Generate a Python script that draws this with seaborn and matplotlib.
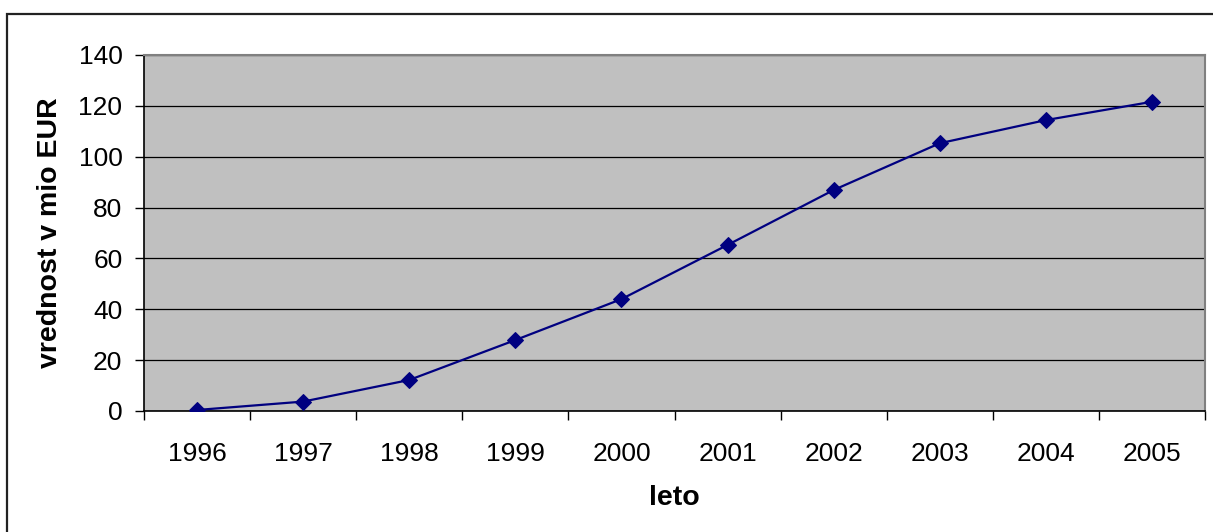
import matplotlib
matplotlib.use("Agg")
import matplotlib.pyplot as plt
from matplotlib.patches import Rectangle
from matplotlib.ticker import FixedLocator, NullFormatter
import seaborn as sns
import pandas as pd

# podatki
years = ["1996", "1997", "1998", "1999", "2000", "2001", "2002", "2003", "2004", "2005"]
values = [0.4, 3.7, 12.2, 27.9, 44.0, 65.3, 86.9, 105.3, 114.4, 121.6]

df = pd.DataFrame({"pos": range(len(years)), "vrednost": values})

sns.set_style("white")
plt.rcParams["font.family"] = ["Liberation Sans", "DejaVu Sans"]
plt.rcParams["text.color"] = "black"
plt.rcParams["axes.labelcolor"] = "black"
plt.rcParams["xtick.color"] = "black"
plt.rcParams["ytick.color"] = "black"

fig = plt.figure(figsize=(12.13, 5.32), dpi=100)
ax = fig.add_axes([144 / 1213, 1 - 411 / 532, (1205 - 144) / 1213, (411 - 55) / 532])
ax.set_facecolor("#c0c0c0")

sns.lineplot(x="pos", y="vrednost", data=df, ax=ax, color="#000080", linewidth=1.6,
             marker="D", markersize=8, markeredgecolor="#000080", zorder=3)

ax.set_ylim(0, 140)
ax.set_yticks(range(0, 141, 20))
ax.yaxis.grid(True, color="#000000", linewidth=0.9)
ax.set_axisbelow(True)

# kategorijska os: oznake med kategorijami, napisi na sredini
ax.set_xlim(-0.5, len(years) - 0.5)
ax.xaxis.set_major_locator(FixedLocator([i - 0.5 for i in range(len(years) + 1)]))
ax.xaxis.set_major_formatter(NullFormatter())
ax.xaxis.set_minor_locator(FixedLocator(range(len(years))))
ax.set_xticklabels(years, minor=True)
ax.tick_params(axis="x", which="major", direction="out", length=6.5, width=1, bottom=True)
ax.tick_params(axis="x", which="minor", length=0, pad=22, labelsize=19)
ax.tick_params(axis="y", direction="out", length=6.5, width=1, left=True, labelsize=19, pad=9)

for side in ["left", "bottom"]:
    ax.spines[side].set_color("black")
    ax.spines[side].set_linewidth(1.2)
for side in ["top", "right"]:
    ax.spines[side].set_color("#808080")
    ax.spines[side].set_linewidth(1.5)

ax.set_xlabel("leto", fontsize=20.5, fontweight="bold", labelpad=14)
ax.set_ylabel("vrednost v mio EUR", fontsize=20.5, fontweight="bold", labelpad=11)

# okvir grafikona
fig.add_artist(Rectangle((7 / 1213, -0.1), 1.2, 1.1 - 14 / 532, transform=fig.transFigure,
                         fill=False, edgecolor="#222222", linewidth=1.6))

fig.savefig("out.png", dpi=100)
